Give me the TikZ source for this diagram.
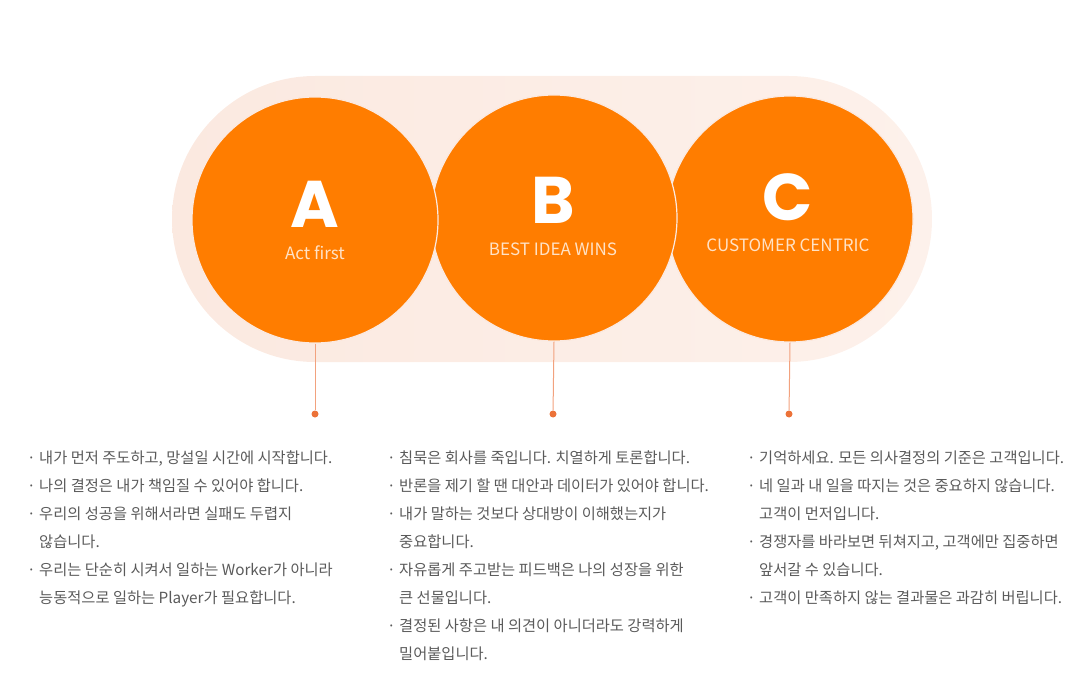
\documentclass[tikz,border=0pt]{standalone}
\usepackage{fontspec}
\setmainfont{Noto Sans CJK KR}
\newfontfamily\letterfont{Poppins}
\usetikzlibrary{positioning}

\definecolor{brandorange}{HTML}{FF7D00}
\definecolor{peachleft}{HTML}{FBE9E0}
\definecolor{peachmid}{HTML}{F9DFD2}
\definecolor{peachright}{HTML}{FDF1EB}
\definecolor{circlabelcol}{HTML}{FFE2C6}
\definecolor{stemcol}{HTML}{F2A27E}
\definecolor{dotcol}{HTML}{EC7238}
\definecolor{bodytext}{HTML}{5A5A5A}

\tikzset{
  bigcircle/.style={circle, fill=brandorange, draw=peachleft, line width=1.2pt,
    minimum size=246pt, inner sep=0pt},
  emblem/.style={text=circlabelcol, font=\fontsize{17}{32}\selectfont, align=center,
    anchor=base, inner sep=0pt},
  stem/.style={draw=stemcol, line width=1pt},
  dotnode/.style={circle, fill=dotcol, minimum size=7pt, inner sep=0pt},
  bullets/.style={text=bodytext, font=\fontsize{15.3}{28}\selectfont, align=left,
    anchor=base west, inner sep=0pt}
}

\newcommand{\bigletter}[1]{{\color{white}\letterfont\bfseries\fontsize{66}{32}\selectfont #1}}
\newcommand{\cont}{\phantom{· }}

\begin{document}
\begin{tikzpicture}[x=1pt, y=-1pt]
    \useasboundingbox (0,0) rectangle (1090,679);

    % Pill background
    \shade[left color=peachleft, middle color=peachmid, right color=peachright,
      rounded corners=143pt] (172,76) rectangle (932,362);

    % Circles (drawn right to left so each overlaps the next)
    \node[bigcircle] (cC) at (790,219) {};
    \node[bigcircle] (cB) at (554,218) {};
    \node[bigcircle] (cA) at (315,220) {};

    % Letters with their titles
    \node[emblem] (eA) at (315,259) {\bigletter{A}\\Act first};
    \node[emblem] (eB) at (553,255) {\bigletter{B}\\BEST IDEA WINS};
    \node[emblem] (eC) at (788,252) {\bigletter{C}\\CUSTOMER CENTRIC};

    % Stems down to the dots
    \node[dotnode] (dA) at (315,414) {};
    \node[dotnode] (dB) at (553,414) {};
    \node[dotnode] (dC) at (789,414) {};
    \draw[stem] (cA.south) -- (dA);
    \draw[stem] (cB.south) -- (dB);
    \draw[stem] (cC.south) -- (dC);

    % Bullet lists (anchored at the baseline of the last line)
    \node[bullets] (listA) at (27,603) {%
      · 내가 먼저 주도하고, 망설일 시간에 시작합니다.\\
      · 나의 결정은 내가 책임질 수 있어야 합니다.\\
      · 우리의 성공을 위해서라면 실패도 두렵지\\
      \cont 않습니다.\\
      · 우리는 단순히 시켜서 일하는 Worker가 아니라\\
      \cont 능동적으로 일하는 Player가 필요합니다.};
    \node[bullets] (listB) at (387,659) {%
      · 침묵은 회사를 죽입니다. 치열하게 토론합니다.\\
      · 반론을 제기 할 땐 대안과 데이터가 있어야 합니다.\\
      · 내가 말하는 것보다 상대방이 이해했는지가\\
      \cont 중요합니다.\\
      · 자유롭게 주고받는 피드백은 나의 성장을 위한\\
      \cont 큰 선물입니다.\\
      · 결정된 사항은 내 의견이 아니더라도 강력하게\\
      \cont 밀어붙입니다.};
    \node[bullets] (listC) at (747,603) {%
      · 기억하세요. 모든 의사결정의 기준은 고객입니다.\\
      · 네 일과 내 일을 따지는 것은 중요하지 않습니다.\\
      \cont 고객이 먼저입니다.\\
      · 경쟁자를 바라보면 뒤쳐지고, 고객에만 집중하면\\
      \cont 앞서갈 수 있습니다.\\
      · 고객이 만족하지 않는 결과물은 과감히 버립니다.};

\end{tikzpicture}
\end{document}
